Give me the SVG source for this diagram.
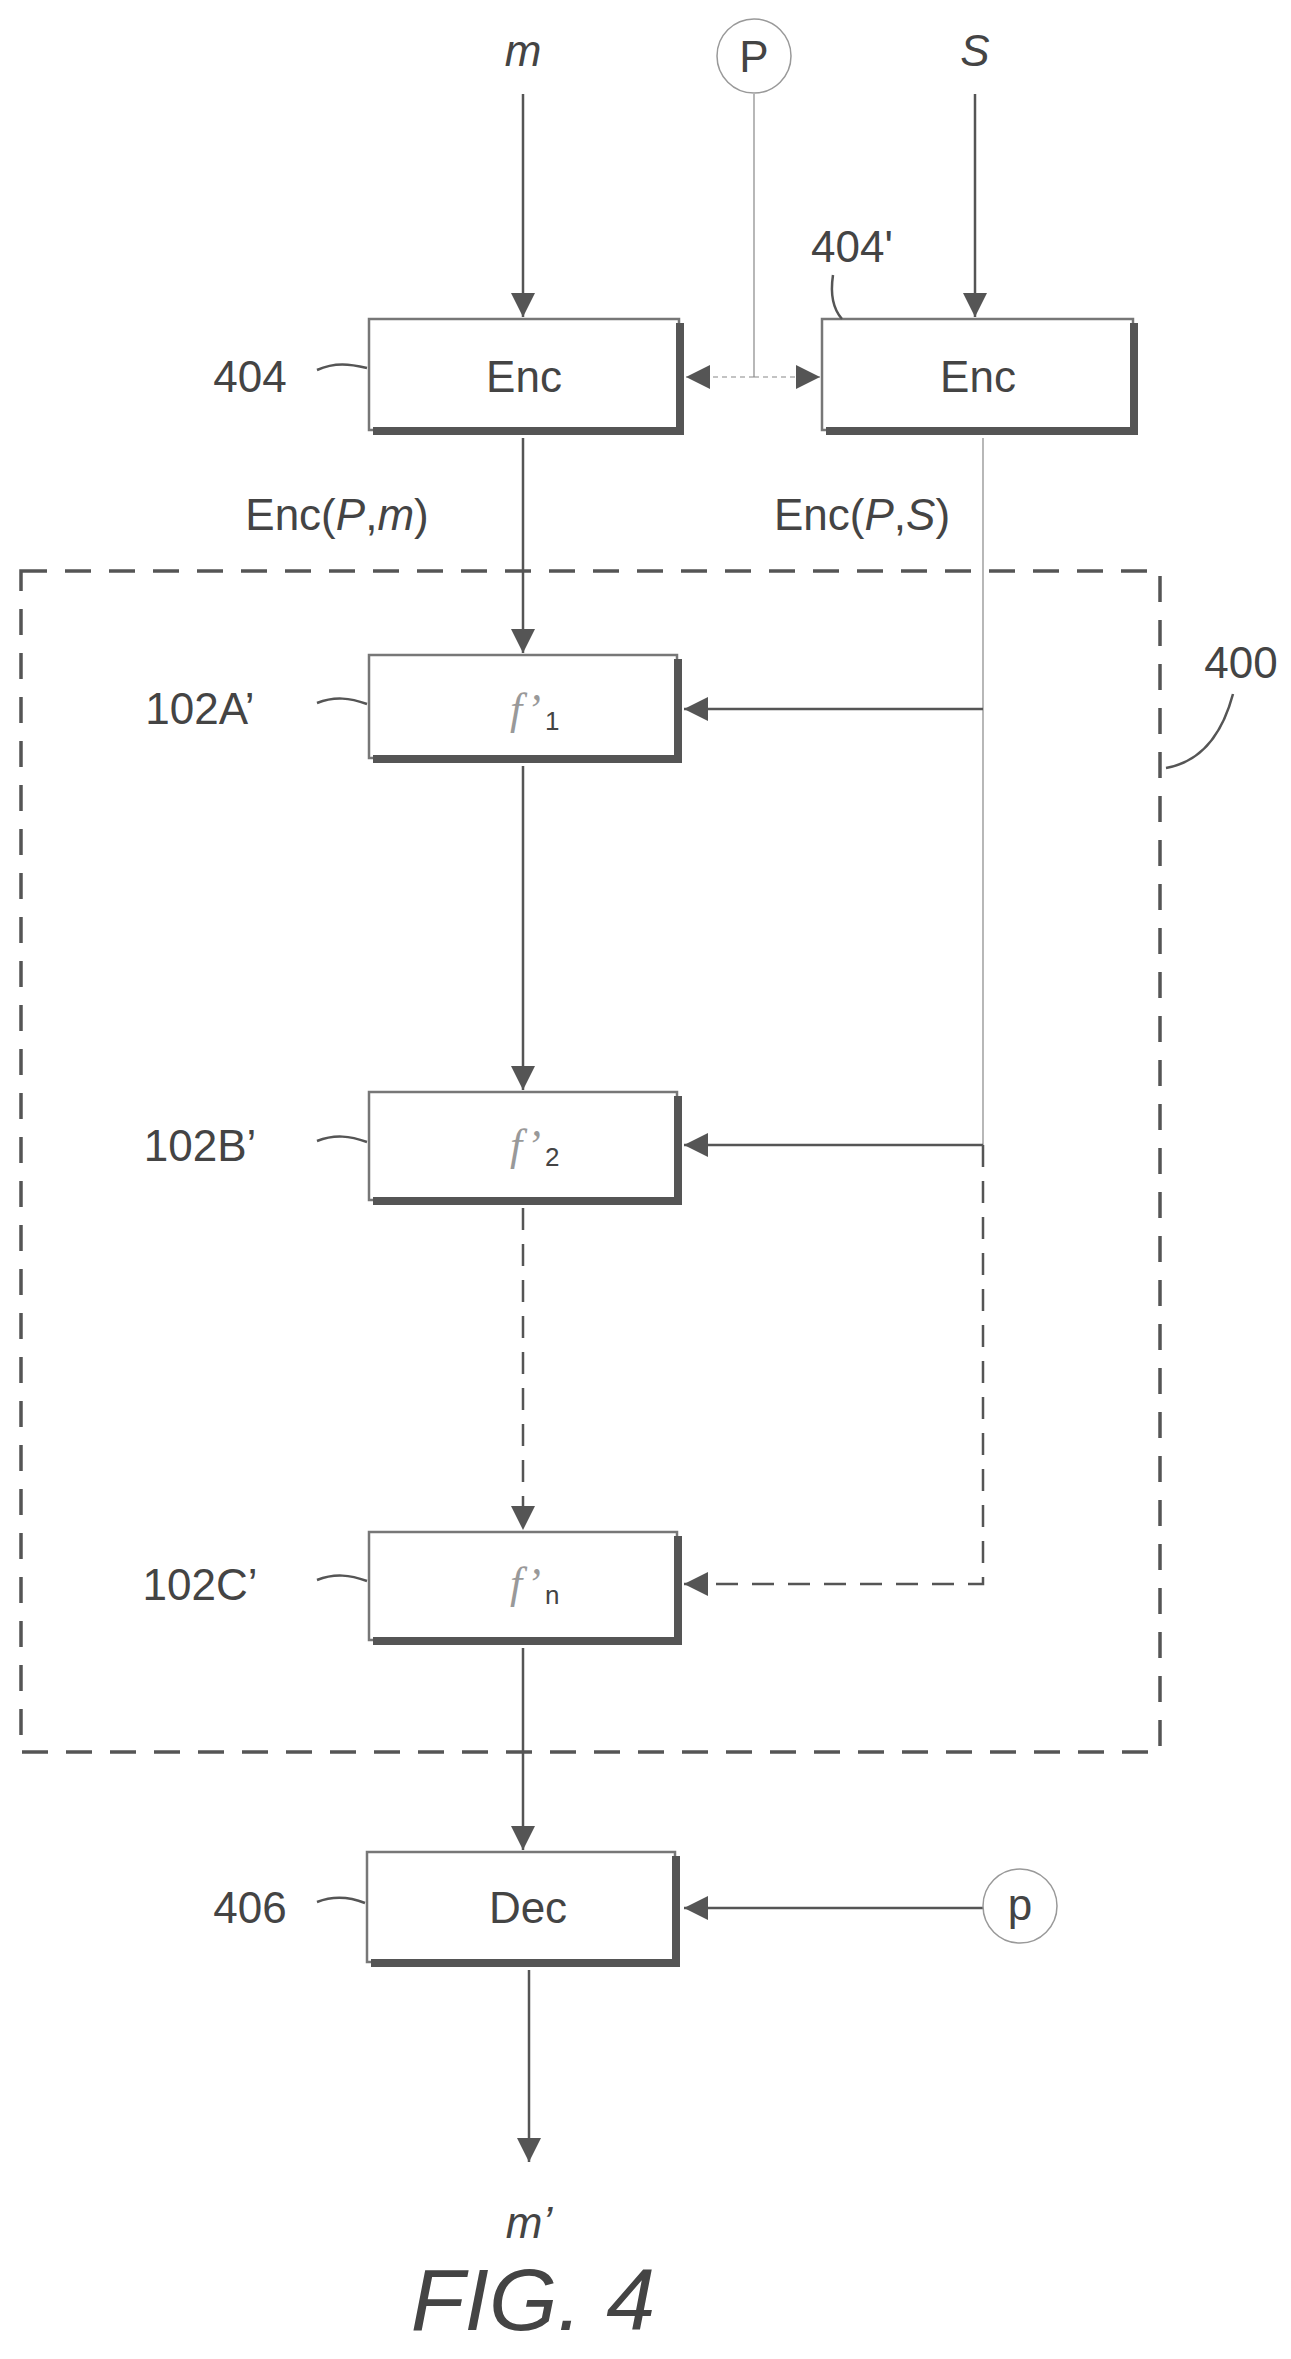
<svg xmlns="http://www.w3.org/2000/svg" width="1291" height="2359" viewBox="0 0 1291 2359">
<style>
text{font-family:"Liberation Sans",Arial,sans-serif;fill:#444;font-size:44px}
.c{text-anchor:middle}
.i{font-style:italic}
.box{fill:#fff;stroke:#777;stroke-width:2.5}
.sh{fill:none;stroke:#555;stroke-width:8}
.ln{fill:none;stroke:#555;stroke-width:2.5}
.th{fill:none;stroke:#888;stroke-width:1.2}
.ds{fill:none;stroke:#555;stroke-width:2.5;stroke-dasharray:22 14}
.lead{fill:none;stroke:#555;stroke-width:2.5}
</style>
<defs>
<marker id="b" viewBox="0 0 10 10" refX="10" refY="5" markerWidth="24" markerHeight="24" markerUnits="userSpaceOnUse" orient="auto"><path d="M0,0 L10,5 L0,10 z" fill="#555"/></marker>
</defs>
<g id="connectors">
<line class="ln" x1="523" y1="94" x2="523" y2="317" marker-end="url(#b)"/>
<line class="ln" x1="975" y1="94" x2="975" y2="317" marker-end="url(#b)"/>
<polyline class="th" points="754,94 754,377"/>
<line class="th" x1="754" y1="377" x2="686" y2="377" stroke-dasharray="5 4" marker-end="url(#b)"/>
<line class="th" x1="754" y1="377" x2="820" y2="377" stroke-dasharray="5 4" marker-end="url(#b)"/>
<line class="ln" x1="523" y1="438" x2="523" y2="653" marker-end="url(#b)"/>
<polyline class="th" points="983,438 983,1145"/>
<line class="ln" x1="983" y1="709" x2="684" y2="709" marker-end="url(#b)"/>
<line class="ln" x1="523" y1="766" x2="523" y2="1090" marker-end="url(#b)"/>
<line class="ln" x1="983" y1="1145" x2="684" y2="1145" marker-end="url(#b)"/>
<line class="ds" x1="523" y1="1208" x2="523" y2="1530" marker-end="url(#b)"/>
<polyline class="ds" points="983,1145 983,1584 700,1584"/>
<line class="ln" x1="705" y1="1584" x2="684" y2="1584" marker-end="url(#b)"/>
<line class="ln" x1="523" y1="1648" x2="523" y2="1850" marker-end="url(#b)"/>
<line class="ln" x1="983" y1="1908" x2="684" y2="1908" marker-end="url(#b)"/>
<line class="ln" x1="529" y1="1970" x2="529" y2="2162" marker-end="url(#b)"/>
</g>
<g id="n400">
<rect x="21" y="571" width="1139" height="1181" fill="none" stroke="#555" stroke-width="3.5" stroke-dasharray="26 18"/>
<text x="1241" y="678" class="c">400</text>
<path class="lead" d="M1233,694 C1222,735 1200,762 1166,768"/>
</g>
<g id="m"><text x="523" y="66" class="c i">m</text></g>
<g id="P"><circle cx="754" cy="56" r="37" fill="#fff" stroke="#999" stroke-width="1.5"/><text x="754" y="72" class="c">P</text></g>
<g id="S"><text x="975" y="66" class="c i">S</text></g>
<g id="n404">
<rect class="box" x="369" y="319" width="310" height="111"/>
<path class="sh" d="M373,431 L680,431 L680,323"/>
<text x="524" y="392" class="c">Enc</text>
<text x="250" y="392" class="c">404</text>
<path class="lead" d="M317,370 C335,362 350,364 367,368"/>
</g>
<g id="n404p">
<rect class="box" x="822" y="319" width="311" height="111"/>
<path class="sh" d="M826,431 L1134,431 L1134,323"/>
<text x="978" y="392" class="c">Enc</text>
<text x="852" y="262" class="c">404'</text>
<path class="lead" d="M833,275 C830,295 834,310 842,319"/>
</g>
<text x="337" y="530" class="c">Enc(<tspan class="i">P</tspan>,<tspan class="i">m</tspan>)</text>
<text x="862" y="530" class="c">Enc(<tspan class="i">P</tspan>,<tspan class="i">S</tspan>)</text>
<g id="f1">
<rect class="box" x="369" y="655" width="308" height="103"/>
<path class="sh" d="M373,759 L678,759 L678,659"/>
<text x="510" y="724" style="font-family:'Liberation Serif',serif;font-style:italic;fill:#999">f’</text><text x="545" y="730" style="font-size:26px">1</text>
<text x="200" y="724" class="c">102A’</text>
<path class="lead" d="M317,703 C335,696 350,698 367,704"/>
</g>
<g id="f2">
<rect class="box" x="369" y="1092" width="308" height="108"/>
<path class="sh" d="M373,1201 L678,1201 L678,1096"/>
<text x="510" y="1160" style="font-family:'Liberation Serif',serif;font-style:italic;fill:#999">f’</text><text x="545" y="1166" style="font-size:26px">2</text>
<text x="200" y="1161" class="c">102B’</text>
<path class="lead" d="M317,1141 C335,1134 350,1136 367,1142"/>
</g>
<g id="fn">
<rect class="box" x="369" y="1532" width="308" height="108"/>
<path class="sh" d="M373,1641 L678,1641 L678,1536"/>
<text x="510" y="1598" style="font-family:'Liberation Serif',serif;font-style:italic;fill:#999">f’</text><text x="545" y="1604" style="font-size:26px">n</text>
<text x="200" y="1600" class="c">102C’</text>
<path class="lead" d="M317,1580 C335,1573 350,1575 367,1581"/>
</g>
<g id="n406">
<rect class="box" x="367" y="1852" width="308" height="110"/>
<path class="sh" d="M371,1963 L676,1963 L676,1856"/>
<text x="528" y="1923" class="c">Dec</text>
<text x="250" y="1923" class="c">406</text>
<path class="lead" d="M317,1902 C335,1895 350,1897 365,1903"/>
</g>
<g id="p"><circle cx="1020" cy="1906" r="37" fill="#fff" stroke="#999" stroke-width="1.5"/><text x="1020" y="1920" class="c">p</text></g>
<g id="mp"><text x="529" y="2238" class="c i">m’</text></g>
<text x="533" y="2330" class="c i" style="font-size:88px">FIG. 4</text>
</svg>
